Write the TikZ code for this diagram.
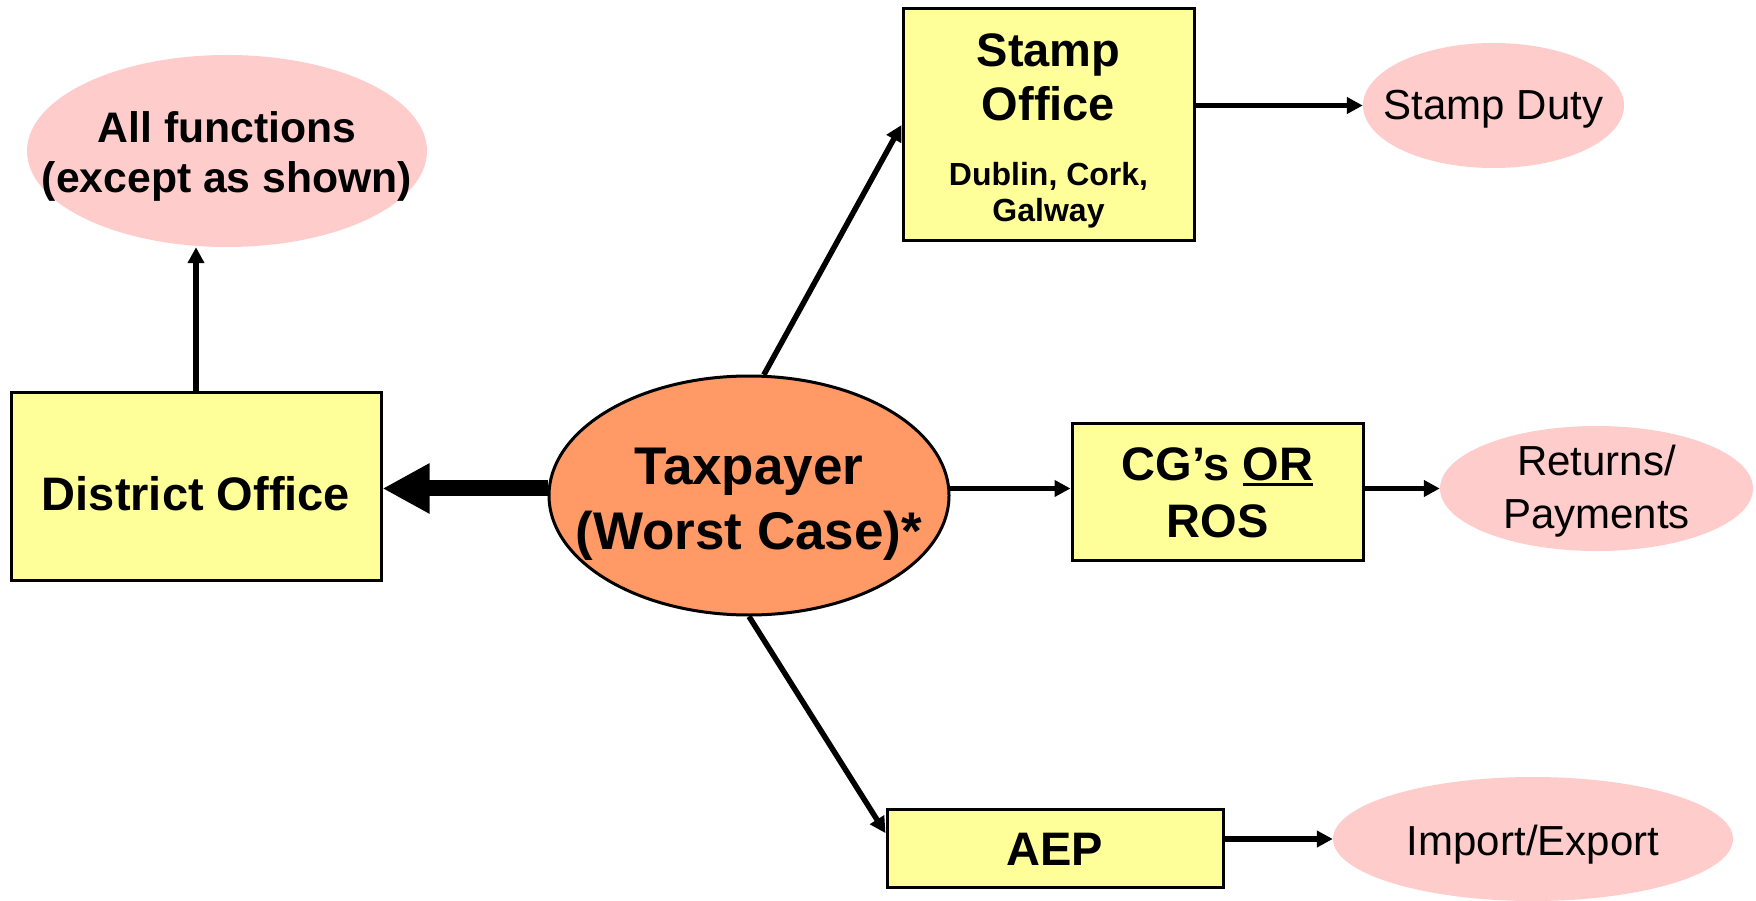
\documentclass[tikz,border=0pt]{standalone}
\usepackage{fontspec}
\setmainfont{Liberation Sans}
\usetikzlibrary{arrows.meta,shapes.geometric}
\definecolor{boxyellow}{HTML}{FFFF99}
\definecolor{pinkfill}{HTML}{FFCCCC}
\definecolor{orangefill}{HTML}{FF9966}
\newcommand{\myul}[1]{\setbox0\hbox{#1}\rlap{\rule[-0.12em]{\wd0}{0.07em}}\box0}
\begin{document}
\begin{tikzpicture}[x=1pt,y=-1pt,
  boxnode/.style={draw=black, line width=3pt, fill=boxyellow, rectangle, inner sep=0pt},
  pinknode/.style={ellipse, fill=pinkfill, draw=none, inner sep=0pt},
  txt/.style={inner sep=0pt, align=center, text=black},
  conn/.style={line width=5.5pt, -{Triangle[length=16pt,width=16pt]}},
  bigconn/.style={line width=16pt, -{Triangle[length=47pt,width=47pt]}},
]
\path[fill=white, use as bounding box] (0,0) rectangle (1756,901);

% shapes
\node[pinknode, minimum width=400pt, minimum height=192pt] (allf) at (227,151) {};
\node[boxnode, minimum width=370pt, minimum height=188pt] (do) at (196,486) {};
\node[ellipse, draw=black, line width=3pt, fill=orangefill, minimum width=400pt, minimum height=239pt, inner sep=0pt] (tp) at (749,495.5) {};
\node[boxnode, minimum width=291pt, minimum height=232pt] (so) at (1048.5,125) {};
\node[pinknode, minimum width=261pt, minimum height=125pt] (sd) at (1493.5,105.5) {};
\node[boxnode, minimum width=291pt, minimum height=137pt] (cg) at (1217.5,491.5) {};
\node[pinknode, minimum width=313pt, minimum height=125pt] (rp) at (1596.5,488.5) {};
\node[boxnode, minimum width=336pt, minimum height=78pt] (aep) at (1055,848) {};
\node[pinknode, minimum width=400pt, minimum height=124pt] (ie) at (1533,839) {};

% texts
\node[txt, font=\bfseries\fontsize{42.7}{50}\selectfont] (allfT) at (227,156) {All functions\\(except as shown)};
\node[txt, font=\bfseries\fontsize{47}{54}\selectfont] (doT) at (196,494) {District Office};
\node[txt, font=\bfseries\fontsize{53}{65}\selectfont] (tpT) at (749,504) {Taxpayer\\(Worst Case)*};
\node[txt, font=\bfseries\fontsize{47}{54}\selectfont] (soT) at (1048.5,77) {Stamp\\Office};
\node[txt, font=\bfseries\fontsize{32}{36}\selectfont] (soT2) at (1048.5,195) {Dublin, Cork,\\Galway};
\node[txt, font=\fontsize{42}{50}\selectfont] (sdT) at (1493.5,109) {Stamp Duty};
\node[txt, font=\bfseries\fontsize{47}{57}\selectfont] (cgT) at (1217.5,493) {CG’s \myul{OR}\\ROS};
\node[txt, font=\fontsize{42}{53}\selectfont] (rpT) at (1596.5,491) {Returns/\\Payments};
\node[txt, font=\bfseries\fontsize{47}{54}\selectfont] (aepT) at (1055,849) {AEP};
\node[txt, font=\fontsize{42}{50}\selectfont] (ieT) at (1533,845) {Import/Export};

% connectors
\draw[conn] (do.north) -- (allf.south -| do.north);
\draw[bigconn] (tp.178) -- (tp.178 -| do.east);
\draw[conn] (tp.83) -- (so.west);
\draw[conn] (tp.2) -- (tp.2 -| cg.west);
\draw[conn] (tp.south) -- (aep.175);
\draw[conn] (sd.west -| so.east) -- (sd.west);
\draw[conn] (rp.west -| cg.east) -- (rp.west);
\draw[conn] (ie.west -| aep.east) -- (ie.west);
\end{tikzpicture}
\end{document}
